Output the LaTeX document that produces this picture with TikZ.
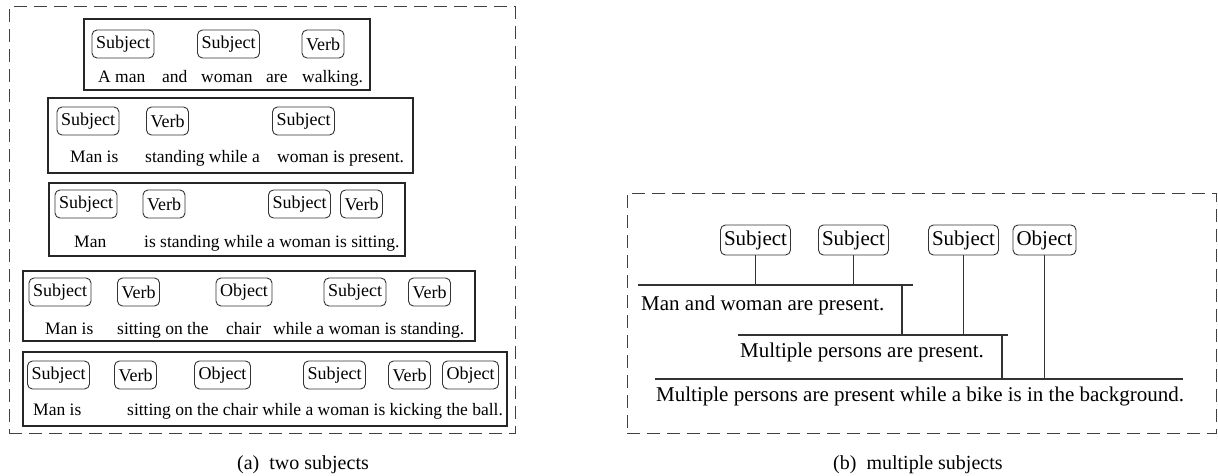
\documentclass[tikz,border=0pt]{standalone}
\usepackage{fontspec}
\setmainfont{Liberation Serif}
\usetikzlibrary{positioning}

\begin{document}
\begin{tikzpicture}[x=1pt,y=-1pt,
  panel/.style={draw=black!75,dash pattern=on 13pt off 7pt,line width=1pt,inner sep=0pt},
  rowbox/.style={draw=black!85,line width=1.2pt,inner sep=0pt},
  lbl/.style={draw=black!80,rounded corners=5pt,line width=0.9pt,inner xsep=4pt,inner ysep=0pt,minimum height=28pt,font=\fontsize{18}{20}\selectfont},
  biglbl/.style={lbl,minimum height=30pt,inner xsep=3.5pt,font=\fontsize{21}{24}\selectfont},
  sent/.style={anchor=base west,inner sep=0pt,font=\fontsize{17.5}{20}\selectfont},
  bigsent/.style={sent,font=\fontsize{21}{24}\selectfont},
  capt/.style={anchor=base west,inner sep=0pt,font=\fontsize{20}{24}\selectfont},
  link/.style={draw=black!80,line width=1.1pt}]
\useasboundingbox (0,0) rectangle (1218,476);

\node[panel,minimum width=506pt,minimum height=426pt] (pana) at (262,220) {};
\node[panel,minimum width=589pt,minimum height=240pt] (panb) at (921.5,313) {};

\node[rowbox,minimum width=286pt,minimum height=71pt] (row1) at (227,54.5) {};
\node[rowbox,minimum width=365pt,minimum height=75pt] (row2) at (230.5,135.5) {};
\node[rowbox,minimum width=356pt,minimum height=73pt] (row3) at (227,219.5) {};
\node[rowbox,minimum width=452pt,minimum height=70pt] (row4) at (249,306) {};
\node[rowbox,minimum width=484pt,minimum height=74pt] (row5) at (265,389) {};

\node[lbl] (r1s1) at (123,44) {Subject};
\node[lbl] (r1s2) at (228.5,44) {Subject};
\node[lbl] (r1v1) at (323,44) {Verb};
\node[sent] (r1t1) at (98,83) {A man};
\node[sent] (r1t2) at (162,83) {and};
\node[sent] (r1t3) at (201,83) {woman};
\node[sent] (r1t4) at (266,83) {are};
\node[sent] (r1t5) at (302,83) {walking.};

\node[lbl] (r2s1) at (88,121) {Subject};
\node[lbl] (r2v1) at (167.5,121) {Verb};
\node[lbl] (r2s2) at (303.5,121) {Subject};
\node[sent] (r2t1) at (70,163) {Man is};
\node[sent] (r2t2) at (145,163) {standing while a};
\node[sent] (r2t3) at (277,163) {woman is present.};

\node[lbl] (r3s1) at (86,204) {Subject};
\node[lbl] (r3v1) at (164,204) {Verb};
\node[lbl] (r3s2) at (299.5,204) {Subject};
\node[lbl] (r3v2) at (361.5,204) {Verb};
\node[sent] (r3t1) at (74,247) {Man};
\node[sent] (r3t2) at (144,247) {is standing while a woman is sitting.};

\node[lbl] (r4s1) at (60,292) {Subject};
\node[lbl] (r4v1) at (138.5,292) {Verb};
\node[lbl] (r4o1) at (244,292) {Object};
\node[lbl] (r4s2) at (355,292) {Subject};
\node[lbl] (r4v2) at (429.5,292) {Verb};
\node[sent] (r4t1) at (45,334) {Man is};
\node[sent] (r4t2) at (117,334) {sitting on the};
\node[sent] (r4t3) at (226,334) {chair};
\node[sent] (r4t4) at (273,334) {while a woman is standing.};

\node[lbl] (r5s1) at (58.5,375) {Subject};
\node[lbl] (r5v1) at (135.5,375) {Verb};
\node[lbl] (r5o1) at (222.5,375) {Object};
\node[lbl] (r5s2) at (334.5,375) {Subject};
\node[lbl] (r5v2) at (409.5,375) {Verb};
\node[lbl] (r5o2) at (470.5,375) {Object};
\node[sent] (r5t1) at (33,415) {Man is};
\node[sent] (r5t2) at (127,415) {sitting on the chair while a woman is kicking the ball.};

\node[biglbl] (bs1) at (755.5,240) {Subject};
\node[biglbl] (bs2) at (853.5,240) {Subject};
\node[biglbl] (bs3) at (963.5,240) {Subject};
\node[biglbl] (bo1) at (1044.5,240) {Object};

\coordinate (l1a) at (638,285);
\coordinate (l1b) at (913,285);
\coordinate (j1) at (902,285);
\coordinate (l2a) at (738,335);
\coordinate (l2b) at (1008,335);
\coordinate (j2) at (1002,335);
\coordinate (l3a) at (655,379);
\coordinate (l3b) at (1183,379);
\draw[link] (l1a) -- (l1b);
\draw[link] (l2a) -- (l2b);
\draw[link] (l3a) -- (l3b);
\draw[link] (bs1) -- (bs1 |- l1a);
\draw[link] (bs2) -- (bs2 |- l1a);
\draw[link] (bs3) -- (bs3 |- l2a);
\draw[link] (bo1) -- (bo1 |- l3a);
\draw[link] (j1) -- (j1 |- l2a);
\draw[link] (j2) -- (j2 |- l3a);
\node[bigsent] (bt1) at (641,310) {Man and woman are present.};
\node[bigsent] (bt2) at (740,357) {Multiple persons are present.};
\node[bigsent] (bt3) at (656,401) {Multiple persons are present while a bike is in the background.};

\node[capt] (capa) at (237,469) {(a)\ \ two subjects};
\node[capt] (capb) at (833,469) {(b)\ \ multiple subjects};
\end{tikzpicture}
\end{document}
